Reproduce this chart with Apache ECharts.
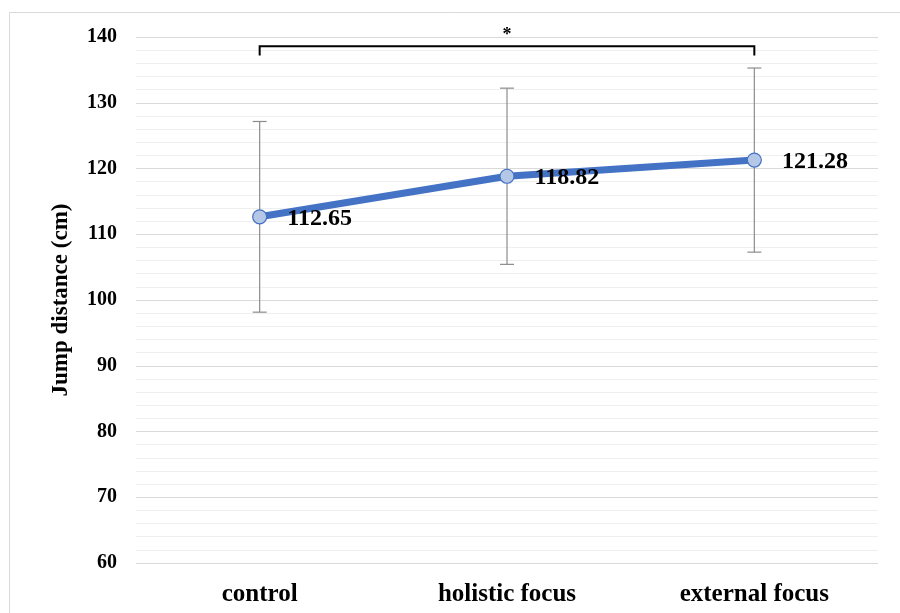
<!DOCTYPE html>
<html>
<head>
<meta charset="utf-8">
<script src="https://cdn.jsdelivr.net/npm/echarts@6/dist/echarts.min.js"></script>
<style>
html,body{margin:0;padding:0;background:#fff;}
#chart{width:900px;height:613px;}
</style>
</head>
<body>
<div id="chart"></div>
<script>
const categories = ['control', 'holistic focus', 'external focus'];
const means = [112.65, 118.82, 121.28];
const sds = [14.5, 13.4, 14.0];
const yTicks = [60, 70, 80, 90, 100, 110, 120, 130, 140];
const bracketFrom = 0;
const bracketTo = 2;
const bracketLevel = 138.6;
const bracketTickEnd = 137.2;
const starLevel = 140.3;
const starLabel = '*';
const yTitle = 'Jump distance (cm)';

const FONT = '"Liberation Serif", "Times New Roman", serif';

const errData = categories.map((c, i) => [i, means[i] - sds[i], means[i] + sds[i]]);

const chart = echarts.init(document.getElementById('chart'), null, {renderer: 'canvas'});
chart.setOption({
  animation: false,
  backgroundColor: '#ffffff',
  graphic: [{
    type: 'rect',
    shape: {x: 9.5, y: 12.5, width: 950, height: 700},
    style: {fill: 'none', stroke: '#d9d9d9', lineWidth: 1},
    silent: true,
    z: 0
  }],
  grid: {left: 136, right: 22, top: 37, bottom: 50},
  xAxis: {
    type: 'category',
    data: categories,
    boundaryGap: true,
    axisLine: {show: false},
    axisTick: {show: false},
    axisLabel: {
      color: '#000', fontFamily: FONT, fontWeight: 'bold', fontSize: 25, margin: 19
    },
    splitLine: {show: false}
  },
  yAxis: {
    type: 'value',
    min: yTicks[0],
    max: yTicks[yTicks.length - 1],
    interval: 10,
    name: yTitle,
    nameLocation: 'middle',
    nameGap: 63,
    nameRotate: 90,
    nameTextStyle: {color: '#000', fontFamily: FONT, fontWeight: 'bold', fontSize: 23},
    axisLine: {show: false},
    axisTick: {show: false},
    axisLabel: {color: '#000', fontFamily: FONT, fontWeight: 'bold', fontSize: 20, margin: 19},
    splitLine: {show: true, lineStyle: {color: '#d9d9d9', width: 1}},
    minorTick: {show: false, splitNumber: 5},
    minorSplitLine: {show: true, lineStyle: {color: '#efefef', width: 1}}
  },
  series: [
    {
      type: 'custom',
      name: 'sd',
      data: errData,
      z: 2,
      renderItem: function (params, api) {
        const x = api.value(0);
        const lo = api.coord([x, api.value(1)]);
        const hi = api.coord([x, api.value(2)]);
        const w = 7;
        const st = {stroke: '#8c8c8c', lineWidth: 1.2};
        return {
          type: 'group',
          children: [
            {type: 'line', shape: {x1: lo[0], y1: lo[1], x2: hi[0], y2: hi[1]}, style: st},
            {type: 'line', shape: {x1: lo[0] - w, y1: lo[1], x2: lo[0] + w, y2: lo[1]}, style: st},
            {type: 'line', shape: {x1: hi[0] - w, y1: hi[1], x2: hi[0] + w, y2: hi[1]}, style: st}
          ]
        };
      }
    },
    {
      type: 'line',
      name: 'mean',
      data: means,
      z: 3,
      symbol: 'circle',
      symbolSize: 14,
      lineStyle: {color: '#4472C4', width: 7},
      itemStyle: {color: '#B4C7E7', borderColor: '#4472C4', borderWidth: 1.2},
      label: {
        show: true,
        position: 'right',
        distance: 20,
        offset: [0, 2],
        color: '#000',
        fontFamily: FONT,
        fontWeight: 'bold',
        fontSize: 24,
        formatter: function (p) { return p.value.toFixed(2); }
      }
    },
    {
      type: 'custom',
      name: 'bracket',
      clip: false,
      z: 4,
      data: [[bracketFrom, bracketTo, bracketLevel, bracketTickEnd, starLevel]],
      renderItem: function (params, api) {
        const a = api.coord([api.value(0), api.value(2)]);
        const b = api.coord([api.value(1), api.value(2)]);
        const ya = api.coord([api.value(0), api.value(3)])[1];
        const s = api.coord([(api.value(0) + api.value(1)) / 2, api.value(4)]);
        return {
          type: 'group',
          children: [
            {
              type: 'polyline',
              shape: {points: [[a[0], ya], [a[0], a[1]], [b[0], b[1]], [b[0], ya]]},
              style: {stroke: '#000', lineWidth: 2, fill: 'none'}
            },
            {
              type: 'text',
              x: s[0], y: s[1],
              style: {
                text: starLabel, fill: '#000', font: 'bold 18px ' + FONT,
                align: 'center', verticalAlign: 'middle'
              }
            }
          ]
        };
      }
    }
  ]
});
</script>
</body>
</html>
